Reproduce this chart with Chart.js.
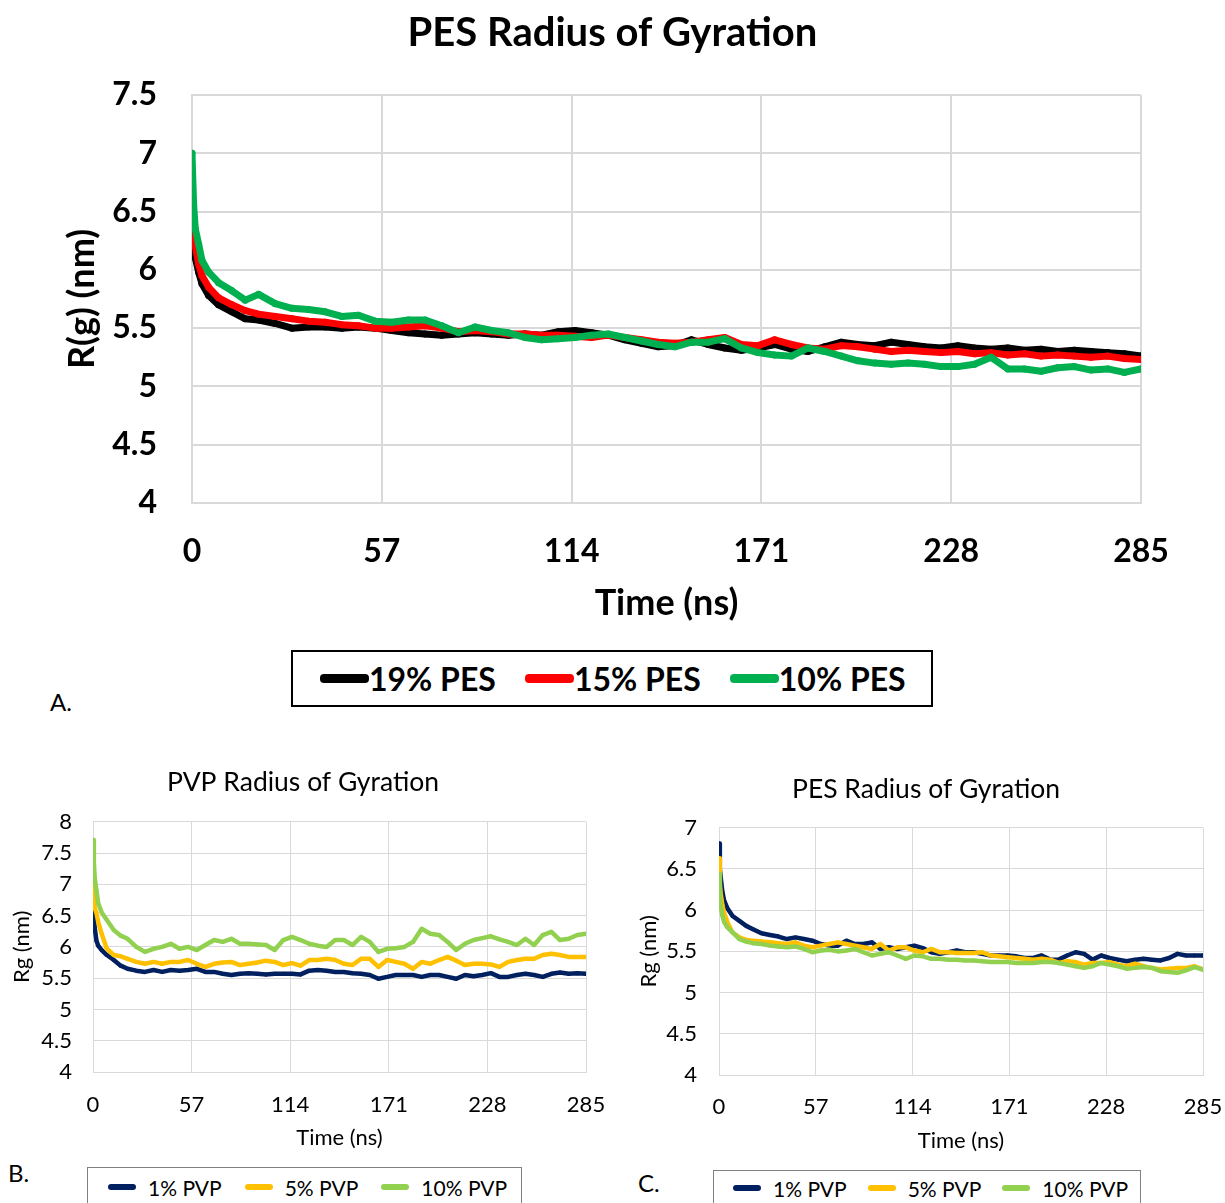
<!DOCTYPE html>
<html lang="en">
<head>
<meta charset="UTF-8">
<title>Radius of Gyration</title>
<script src="https://cdn.jsdelivr.net/npm/chart.js"></script>
<style>
  body { margin:0; background:#fff; font-family: Lato, "Open Sans", sans-serif; color:#000; }
  #page { position:relative; width:1225px; height:1203px; overflow:hidden; background:#fff; }
  canvas { position:absolute; }
  .legend { position:absolute; box-sizing:border-box; background:#fff; display:flex; align-items:center; }
  .legend .sw { display:inline-block; border-radius:4px; }
  .legend .it { display:flex; align-items:center; }
  .tag { position:absolute; font-size:24px; line-height:26px; }
</style>
</head>
<body>
<div id="page">
  <canvas id="chartA" width="1225" height="633" style="left:0;top:0;"></canvas>
  <canvas id="chartB" width="606" height="402" style="left:0;top:750px;"></canvas>
  <canvas id="chartC" width="598" height="405" style="left:627px;top:750px;"></canvas>

  <!-- legend A -->
  <div class="legend" style="left:291px;top:650px;width:642px;height:57px;border:2px solid #000;padding-left:27px;font-weight:bold;font-size:32px;">
    <div class="it"><span class="sw" style="width:49px;height:9px;background:#000"></span><span>19% PES</span></div>
    <div class="it" style="margin-left:29px"><span class="sw" style="width:49px;height:9px;background:#ff0000"></span><span>15% PES</span></div>
    <div class="it" style="margin-left:29px"><span class="sw" style="width:49px;height:9px;background:#00b050"></span><span>10% PES</span></div>
  </div>
  <div class="tag" style="left:50px;top:689px;">A.</div>

  <!-- legend B -->
  <div class="legend" style="left:87px;top:1167px;width:435px;height:50px;border:1px solid #808080;padding-left:20px;padding-bottom:10px;font-size:21px;">
    <div class="it"><span class="sw" style="width:28px;height:6px;background:#002060"></span><span style="margin-left:12px">1% PVP</span></div>
    <div class="it" style="margin-left:23px"><span class="sw" style="width:28px;height:6px;background:#ffc000"></span><span style="margin-left:12px">5% PVP</span></div>
    <div class="it" style="margin-left:23px"><span class="sw" style="width:28px;height:6px;background:#92d050"></span><span style="margin-left:12px">10% PVP</span></div>
  </div>
  <div class="tag" style="left:8px;top:1160px;">B.</div>

  <!-- legend C -->
  <div class="legend" style="left:713px;top:1170px;width:428px;height:50px;border:1px solid #808080;padding-left:19px;padding-bottom:14px;font-size:21px;">
    <div class="it"><span class="sw" style="width:28px;height:6px;background:#002060"></span><span style="margin-left:12px">1% PVP</span></div>
    <div class="it" style="margin-left:21px"><span class="sw" style="width:28px;height:6px;background:#ffc000"></span><span style="margin-left:12px">5% PVP</span></div>
    <div class="it" style="margin-left:21px"><span class="sw" style="width:28px;height:6px;background:#92d050"></span><span style="margin-left:12px">10% PVP</span></div>
  </div>
  <div class="tag" style="left:638px;top:1170px;">C.</div>
</div>

<script>
// time axis (ns), shared by all series
const time = [0, 0.5, 1, 2, 3, 5, 8, 12, 16, 20,
  25, 30, 35, 40, 45, 50, 55, 60, 65, 70,
  75, 80, 85, 90, 95, 100, 105, 110, 115, 120,
  125, 130, 135, 140, 145, 150, 155, 160, 165, 170,
  175, 180, 185, 190, 195, 200, 205, 210, 215, 220,
  225, 230, 235, 240, 245, 250, 255, 260, 265, 270,
  275, 280, 285];
const xTicks = [0, 57, 114, 171, 228, 285];

// ---- A. PES Radius of Gyration
const labelsA = ['19% PES', '15% PES', '10% PES'];
const pes19 = [6.50, 6.20, 6.10, 5.98, 5.88, 5.78, 5.70, 5.64, 5.58, 5.57,
  5.54, 5.50, 5.51, 5.51, 5.50, 5.51, 5.50, 5.48, 5.46, 5.45,
  5.44, 5.45, 5.46, 5.45, 5.44, 5.45, 5.44, 5.47, 5.48, 5.46,
  5.44, 5.40, 5.37, 5.34, 5.35, 5.40, 5.36, 5.33, 5.31, 5.33,
  5.36, 5.32, 5.30, 5.34, 5.38, 5.36, 5.35, 5.38, 5.36, 5.34,
  5.33, 5.35, 5.33, 5.32, 5.33, 5.31, 5.32, 5.30, 5.31, 5.30,
  5.29, 5.28, 5.26];
const pes15 = [6.72, 6.35, 6.20, 6.05, 5.95, 5.85, 5.76, 5.70, 5.65, 5.62,
  5.60, 5.58, 5.56, 5.55, 5.53, 5.52, 5.50, 5.50, 5.51, 5.52,
  5.50, 5.47, 5.48, 5.47, 5.45, 5.45, 5.44, 5.44, 5.43, 5.42,
  5.44, 5.42, 5.40, 5.38, 5.37, 5.38, 5.40, 5.42, 5.36, 5.35,
  5.40, 5.36, 5.33, 5.32, 5.35, 5.34, 5.32, 5.30, 5.31, 5.30,
  5.29, 5.30, 5.28, 5.29, 5.27, 5.28, 5.26, 5.27, 5.26, 5.25,
  5.26, 5.24, 5.23];
const pes10 = [7.00, 6.55, 6.35, 6.22, 6.08, 5.98, 5.89, 5.82, 5.74, 5.79,
  5.71, 5.67, 5.66, 5.64, 5.60, 5.61, 5.56, 5.55, 5.57, 5.57,
  5.52, 5.46, 5.51, 5.48, 5.46, 5.42, 5.40, 5.41, 5.42, 5.44,
  5.45, 5.42, 5.39, 5.36, 5.34, 5.38, 5.38, 5.41, 5.33, 5.29,
  5.27, 5.26, 5.33, 5.30, 5.26, 5.22, 5.20, 5.19, 5.20, 5.19,
  5.17, 5.17, 5.19, 5.25, 5.15, 5.15, 5.13, 5.16, 5.17, 5.14,
  5.15, 5.12, 5.15];

// ---- B. PVP Radius of Gyration
const labelsPVP = ['1% PVP', '5% PVP', '10% PVP'];
const pvp1 = [6.83, 6.45, 6.30, 6.10, 6.02, 5.95, 5.87, 5.79, 5.70, 5.65,
  5.62, 5.60, 5.63, 5.60, 5.63, 5.62, 5.63, 5.65, 5.60, 5.60,
  5.57, 5.55, 5.57, 5.58, 5.57, 5.56, 5.57, 5.57, 5.57, 5.56,
  5.62, 5.63, 5.62, 5.60, 5.60, 5.58, 5.57, 5.55, 5.49, 5.52,
  5.55, 5.55, 5.55, 5.52, 5.55, 5.55, 5.52, 5.49, 5.55, 5.53,
  5.55, 5.58, 5.52, 5.52, 5.55, 5.57, 5.55, 5.52, 5.57, 5.59,
  5.57, 5.58, 5.57];
const pvp5 = [7.13, 6.75, 6.62, 6.54, 6.40, 6.21, 5.97, 5.87, 5.85, 5.81,
  5.76, 5.73, 5.76, 5.73, 5.76, 5.76, 5.79, 5.73, 5.68, 5.73,
  5.75, 5.76, 5.71, 5.73, 5.75, 5.78, 5.76, 5.71, 5.74, 5.70,
  5.79, 5.79, 5.81, 5.79, 5.73, 5.71, 5.81, 5.81, 5.68, 5.79,
  5.76, 5.73, 5.65, 5.76, 5.73, 5.79, 5.84, 5.78, 5.71, 5.73,
  5.73, 5.72, 5.68, 5.76, 5.79, 5.81, 5.81, 5.87, 5.89, 5.87,
  5.84, 5.84, 5.84];
const pvp10 = [7.71, 7.35, 7.10, 6.90, 6.70, 6.55, 6.43, 6.27, 6.18, 6.13,
  6.00, 5.92, 5.97, 6.00, 6.05, 5.97, 6.00, 5.95, 6.03, 6.11,
  6.08, 6.13, 6.05, 6.05, 6.04, 6.03, 5.95, 6.11, 6.16, 6.11,
  6.05, 6.02, 6.00, 6.11, 6.11, 6.03, 6.16, 6.08, 5.92, 5.97,
  5.98, 6.00, 6.08, 6.29, 6.21, 6.19, 6.08, 5.95, 6.05, 6.11,
  6.14, 6.17, 6.12, 6.08, 6.03, 6.13, 6.03, 6.19, 6.24, 6.11,
  6.13, 6.19, 6.21];

// ---- C. PES Radius of Gyration (in PVP)
const pesIn1 = [6.81, 6.50, 6.40, 6.22, 6.12, 6.02, 5.93, 5.87, 5.81, 5.77,
  5.72, 5.70, 5.68, 5.65, 5.67, 5.65, 5.63, 5.59, 5.57, 5.57,
  5.63, 5.59, 5.59, 5.61, 5.53, 5.55, 5.53, 5.55, 5.57, 5.54,
  5.49, 5.47, 5.49, 5.51, 5.49, 5.49, 5.47, 5.45, 5.45, 5.45,
  5.44, 5.42, 5.42, 5.45, 5.40, 5.40, 5.45, 5.49, 5.47, 5.40,
  5.45, 5.42, 5.40, 5.38, 5.40, 5.41, 5.40, 5.39, 5.42, 5.47,
  5.45, 5.45, 5.45];
const pesIn5 = [6.63, 6.32, 6.20, 6.06, 5.97, 5.85, 5.73, 5.67, 5.64, 5.63,
  5.62, 5.61, 5.60, 5.59, 5.61, 5.57, 5.55, 5.57, 5.59, 5.61,
  5.59, 5.57, 5.55, 5.53, 5.59, 5.51, 5.55, 5.55, 5.51, 5.49,
  5.53, 5.49, 5.49, 5.48, 5.48, 5.48, 5.49, 5.45, 5.44, 5.43,
  5.42, 5.41, 5.40, 5.41, 5.40, 5.36, 5.38, 5.37, 5.34, 5.36,
  5.36, 5.37, 5.34, 5.32, 5.35, 5.32, 5.30, 5.28, 5.29, 5.30,
  5.30, 5.32, 5.28];
const pesIn10 = [6.44, 6.15, 6.05, 5.93, 5.86, 5.79, 5.73, 5.65, 5.62, 5.60,
  5.59, 5.57, 5.56, 5.55, 5.56, 5.53, 5.49, 5.51, 5.52, 5.50,
  5.51, 5.53, 5.49, 5.45, 5.47, 5.49, 5.45, 5.41, 5.45, 5.44,
  5.41, 5.41, 5.40, 5.40, 5.39, 5.39, 5.38, 5.37, 5.37, 5.37,
  5.36, 5.36, 5.36, 5.37, 5.37, 5.36, 5.34, 5.32, 5.30, 5.32,
  5.36, 5.34, 5.32, 5.29, 5.30, 5.31, 5.30, 5.26, 5.25, 5.24,
  5.27, 5.31, 5.28];

const colorsA = ['#000000', '#ff0000', '#00b050'];
const colorsPVP = ['#002060', '#ffc000', '#92d050'];

const FONT = 'Lato, "Open Sans", sans-serif';

// one panel = one line chart, plot box fixed by afterFit
const drawPanel = (id, p) => {
  const datasets = p.series.map((vals, i) => ({
    label: p.labels[i],
    data: time.map((t, k) => ({ x: t, y: vals[k] })),
    borderColor: p.colors[i],
    backgroundColor: p.colors[i],
    borderWidth: p.lineW,
    pointRadius: p.pointR,
    pointBorderWidth: 0,
    borderCapStyle: 'round',
    borderJoinStyle: 'round',
    order: p.series.length - i   // last series on top, like Excel
  }));
  const tickFont = { family: FONT, size: p.tickSize, weight: p.weight };
  const axisFont = { family: FONT, size: p.axisSize, weight: p.weight };
  return new Chart(document.getElementById(id), {
    type: 'line',
    data: { datasets: datasets },
    options: {
      responsive: false,
      animation: false,
      events: [],
      layout: { padding: 0 },
      plugins: {
        legend: { display: false },
        tooltip: { enabled: false },
        title: {
          display: true, text: p.title, color: '#000',
          font: { family: FONT, size: p.titleSize, weight: p.weight, lineHeight: 1.2 },
          padding: p.titlePad
        }
      },
      scales: {
        x: {
          type: 'linear', min: 0, max: 285,
          afterBuildTicks: s => { s.ticks = xTicks.map(v => ({ value: v })); },
          afterFit: s => { s.height = p.xAxisH; },
          ticks: { color: '#000', font: tickFont, padding: 0, maxRotation: 0, autoSkip: false },
          // invisible tick marks push the labels down without widening the side padding
          grid: { color: '#d9d9d9', lineWidth: p.gridW, drawTicks: true, tickLength: p.xTickPad, tickColor: 'rgba(0,0,0,0)' },
          border: { color: '#d9d9d9', width: p.gridW },
          title: { display: true, text: 'Time (ns)', color: '#000', font: axisFont, padding: { top: 0, bottom: p.xTitlePad } }
        },
        y: {
          min: p.yMin, max: p.yMax,
          afterFit: s => { s.width = p.yAxisW; },
          ticks: { stepSize: 0.5, color: '#000', font: tickFont, padding: p.yTickPad, callback: v => String(v) },
          grid: { color: '#d9d9d9', lineWidth: p.gridW, drawTicks: false },
          border: { color: '#d9d9d9', width: p.gridW },
          title: { display: true, text: p.yTitle, color: '#000', font: axisFont, padding: { top: p.yTitlePad, bottom: 0 } }
        },
        // empty right-hand strip so the title centres on the whole chart box
        yr: {
          position: 'right', display: true,
          afterFit: s => { s.width = p.rightW; },
          ticks: { display: false },
          grid: { display: false },
          border: { display: false }
        }
      }
    }
  });
};

drawPanel('chartA', {
  title: 'PES Radius of Gyration', titleSize: 40, titlePad: { top: 9, bottom: 38 },
  weight: 'bold', tickSize: 32, axisSize: 36,
  labels: labelsA, colors: colorsA, series: [pes19, pes15, pes10],
  lineW: 7, pointR: 3.5, gridW: 2,
  yMin: 4, yMax: 7.5, yTitle: 'R(g) (nm)',
  yAxisW: 192, yTickPad: 35, yTitlePad: 61,
  xAxisH: 130, xTickPad: 29, xTitlePad: 8,
  rightW: 84
});

drawPanel('chartB', {
  title: 'PVP Radius of Gyration', titleSize: 26.5, titlePad: { top: 17, bottom: 23 },
  weight: 'normal', tickSize: 22, axisSize: 22,
  labels: labelsPVP, colors: colorsPVP, series: [pvp1, pvp5, pvp10],
  lineW: 4.5, pointR: 2, gridW: 1,
  yMin: 4, yMax: 8, yTitle: 'Rg (nm)',
  yAxisW: 93, yTickPad: 21, yTitlePad: 9,
  xAxisH: 80, xTickPad: 20, xTitlePad: 1,
  rightW: 20
});

drawPanel('chartC', {
  title: 'PES Radius of Gyration', titleSize: 26.5, titlePad: { top: 24, bottom: 22 },
  weight: 'normal', tickSize: 22, axisSize: 22,
  labels: labelsPVP, colors: colorsPVP, series: [pesIn1, pesIn5, pesIn10],
  lineW: 4.5, pointR: 2, gridW: 1,
  yMin: 4, yMax: 7, yTitle: 'Rg (nm)',
  yAxisW: 92, yTickPad: 22, yTitlePad: 9,
  xAxisH: 80, xTickPad: 19, xTitlePad: 1,
  rightW: 22
});
</script>
</body>
</html>
